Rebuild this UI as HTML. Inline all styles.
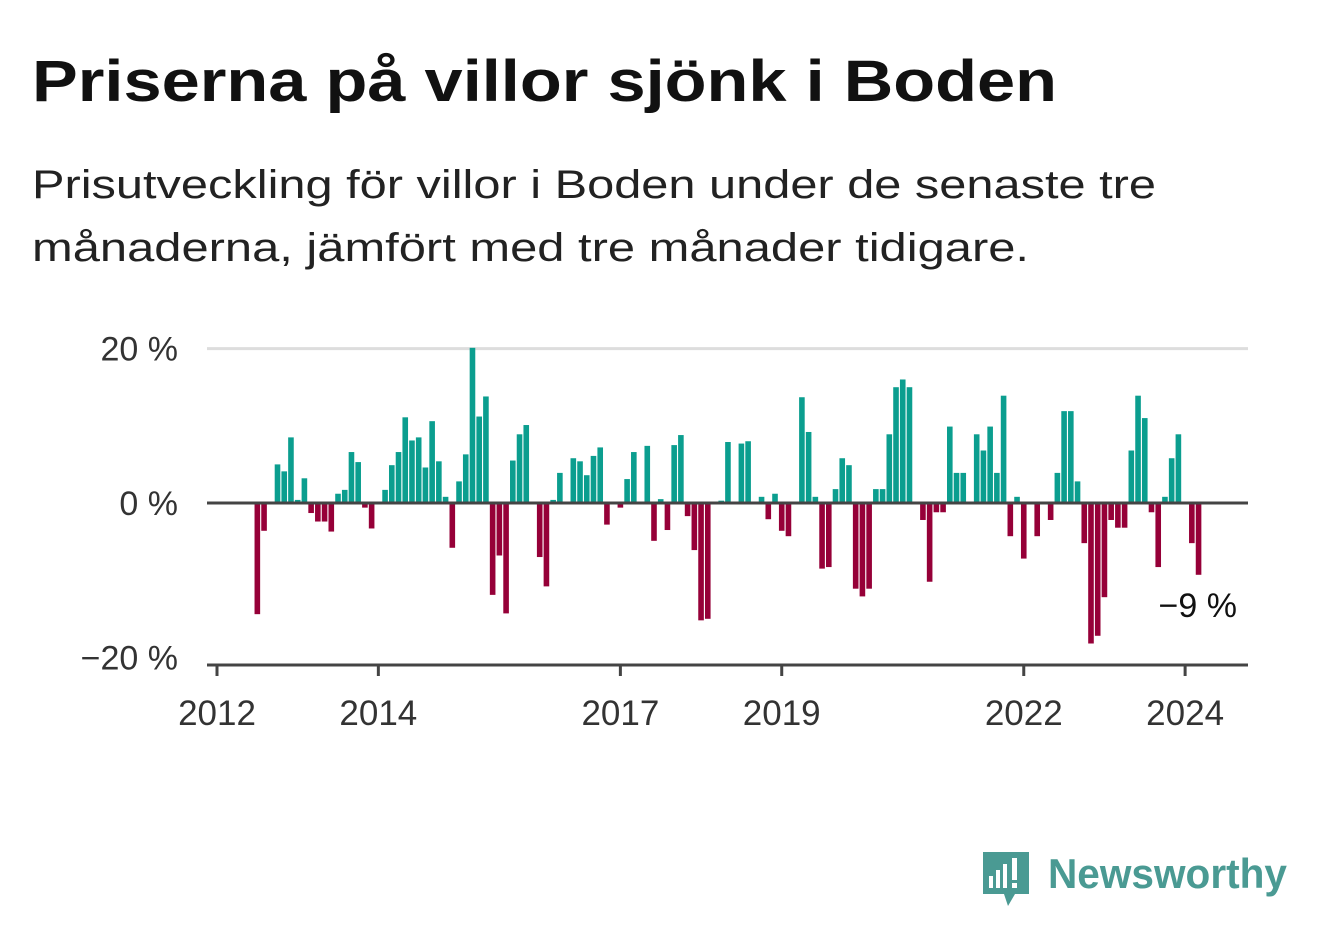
<!DOCTYPE html>
<html><head><meta charset="utf-8"><style>
body{margin:0;background:#fff;width:1322px;height:939px;overflow:hidden;font-family:"Liberation Sans",sans-serif}
</style></head><body>
<svg width="1322" height="939" xmlns="http://www.w3.org/2000/svg">
<text x="32" y="101" font-size="58" font-weight="bold" fill="#111" textLength="1025" lengthAdjust="spacingAndGlyphs">Priserna på villor sjönk i Boden</text>
<text x="32" y="198" font-size="40" fill="#222" textLength="1124" lengthAdjust="spacingAndGlyphs">Prisutveckling för villor i Boden under de senaste tre</text>
<text x="32" y="261" font-size="40" fill="#222" textLength="997" lengthAdjust="spacingAndGlyphs">månaderna, jämfört med tre månader tidigare.</text>
<g id="plot"></g>
<g>
<path d="M983 852 h46 v42 h-14 l-7 12 l-4 -12 h-21 z" fill="#4a9a93"/>
<rect x="989" y="876" width="4" height="12" fill="#fff"/><rect x="996" y="870" width="4" height="18" fill="#fff"/><rect x="1003" y="864" width="4" height="24" fill="#fff"/><rect x="1012" y="858" width="5" height="22" fill="#fff"/><rect x="1012" y="883" width="5" height="5" fill="#fff"/>
<text x="1048" y="888" font-size="42" font-weight="bold" fill="#4a9a93" textLength="239" lengthAdjust="spacingAndGlyphs">Newsworthy</text>
</g>
</svg>
<script>
// monthly values starting Jan 2012; null = no data
const values = [null,null,null,null,null,null,-14.4,-3.6,null,5.0,4.1,8.5,0.4,3.2,-1.3,-2.4,-2.4,-3.7,1.2,1.7,6.6,5.3,-0.6,-3.3,
null,1.7,4.9,6.6,11.1,8.1,8.5,4.6,10.6,5.4,0.8,-5.8,2.8,6.3,20.1,11.2,13.8,-11.9,-6.8,-14.3,5.5,8.9,10.1,null,
-7.0,-10.8,0.4,3.9,null,5.8,5.4,3.6,6.1,7.2,-2.8,null,-0.6,3.1,6.6,null,7.4,-4.9,0.5,-3.5,7.5,8.8,-1.7,-6.1,
-15.2,-15.0,null,0.3,7.9,null,7.7,8.0,null,0.8,-2.1,1.2,-3.6,-4.3,null,13.7,9.2,0.8,-8.5,-8.3,1.8,5.8,4.9,-11.1,
-12.1,-11.1,1.8,1.8,8.9,15.0,16.0,15.0,null,-2.2,-10.2,-1.2,-1.2,9.9,3.9,3.9,null,8.9,6.8,9.9,3.9,13.9,-4.3,0.8,
-7.2,null,-4.3,null,-2.2,3.9,11.9,11.9,2.8,-5.2,-18.2,-17.2,-12.2,-2.2,-3.2,-3.2,6.8,13.9,11.0,-1.2,-8.3,0.8,5.8,8.9,
null,-5.2,-9.3];
const tickYears = [2012,2014,2017,2019,2022,2024];
const yTicks = [20,0,-20];
const yTickLabels = ["20 %","0 %","−20 %"];
const lastLabel = "−9 %";
const NS="http://www.w3.org/2000/svg";
const g=document.getElementById('plot');
const x=i=>217+i*6.723;
const y=v=>503-v*7.72;
function mk(t,a){const e=document.createElementNS(NS,t);for(const k in a)e.setAttribute(k,a[k]);g.appendChild(e);return e;}
yTicks.forEach((t,i)=>{
  if(t!==-20){const l=mk('line',{x1:207,x2:1248,y1:y(t),y2:y(t),stroke:t===0?'#444':'#ddd','stroke-width':3});
  
  }
  const tx=mk('text',{x:178,y:y(t)+12,'font-size':34,fill:'#333','text-anchor':'end'});
  tx.textContent=yTickLabels[i];
  
  
});
values.forEach((v,i)=>{
  if(v===null)return;
  const r=mk('rect',{x:x(i)-2.8,width:5.6,y:v>0?y(v):y(0)+1.5,height:Math.max(0,Math.abs(y(v)-y(0))-1.5),fill:v>0?'#0b9e8f':'#960038'});
  
  
});
const zl=mk('line',{x1:207,x2:1248,y1:y(0),y2:y(0),stroke:'#444','stroke-width':3});


const ax=mk('line',{x1:207,x2:1248,y1:665,y2:665,stroke:'#444','stroke-width':3});


tickYears.forEach(yr=>{
  const xi=x((yr-2012)*12);
  const tk=mk('line',{x1:xi,x2:xi,y1:665,y2:676,stroke:'#444','stroke-width':3});
  
  
  const tx=mk('text',{x:xi,y:725,'font-size':35,fill:'#333','text-anchor':'middle'});
  tx.textContent=yr;
  
  
});
const li=values.length-1;
const lb=mk('text',{x:1237,y:y(values[li])+42,'font-size':34,fill:'#111','text-anchor':'end'});
lb.textContent=lastLabel;


</script>
</body></html>
